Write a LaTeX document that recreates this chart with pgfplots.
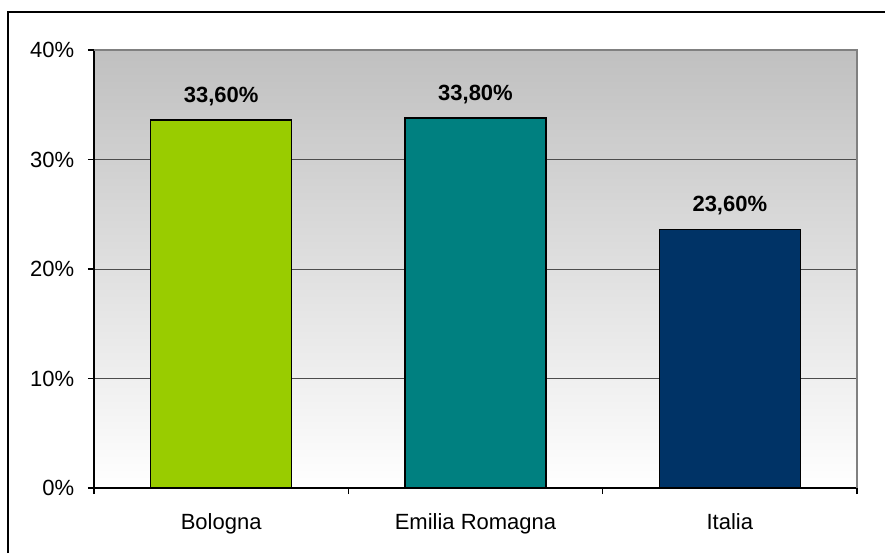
\documentclass[border=0pt]{standalone}
\usepackage{pgfplots}
\pgfplotsset{compat=1.18}
\usepackage{fontspec}
\setmainfont{Liberation Sans}

\definecolor{bologna}{HTML}{99CC00}
\definecolor{emilia}{HTML}{008080}
\definecolor{italia}{HTML}{003366}
\definecolor{bgtop}{HTML}{C0C0C0}

\begin{document}
\begin{tikzpicture}
\fontsize{11}{13}\selectfont
% picture is 885 x 553 px, 1px = 0.5pt, y measured from bottom
\useasboundingbox (0,0) rectangle (442.5pt,276.5pt);
\draw[line width=1pt] (4pt,0pt) -- (4pt,270.5pt) -- (442.5pt,270.5pt);

\begin{axis}[
    at={(47pt,32.5pt)}, anchor=south west,
    scale only axis,
    width=381.5pt, height=219pt,
    xmin=-0.5, xmax=2.5,
    ymin=0, ymax=40,
    ybar, bar width=70.5pt, bar shift=0pt,
    axis x line*=bottom, axis y line*=left,
    axis line style={black, line width=0.6pt},
    tick align=outside,
    major tick length=3pt,
    tick style={black, line width=0.6pt},
    xtick={-0.5,0.5,1.5,2.5},
    xticklabels={},
    extra x ticks={0,1,2},
    extra x tick labels={Bologna,Emilia Romagna,Italia},
    extra x tick style={major tick length=0pt, grid=none,
        xticklabel style={yshift=-9pt}},
    ytick={0,10,20,30,40},
    yticklabel={\pgfmathprintnumber{\tick}\%},
    yticklabel style={xshift=-3pt},
    /pgf/number format/assume math mode=true,
    ymajorgrids,
    grid style={black!70, line width=0.5pt},
    axis background/.style={top color=bgtop, bottom color=white},
    nodes near coords,
    point meta=explicit symbolic,
    every node near coord/.append style={font=\bfseries, anchor=south,
        inner sep=0pt, text depth=0pt, yshift=8.5pt, black},
    after end axis/.code={
        \draw[black!50, line width=0.6pt] (rel axis cs:0,1) -- (rel axis cs:1,1) -- (rel axis cs:1,0);
    },
]
\addplot[fill=bologna, draw=black, line width=0.8pt] coordinates {(0,33.6) [33,60\%]};
\addplot[fill=emilia, draw=black, line width=0.8pt] coordinates {(1,33.8) [33,80\%]};
\addplot[fill=italia, draw=black, line width=0.8pt] coordinates {(2,23.6) [23,60\%]};
\end{axis}
\end{tikzpicture}
\end{document}
